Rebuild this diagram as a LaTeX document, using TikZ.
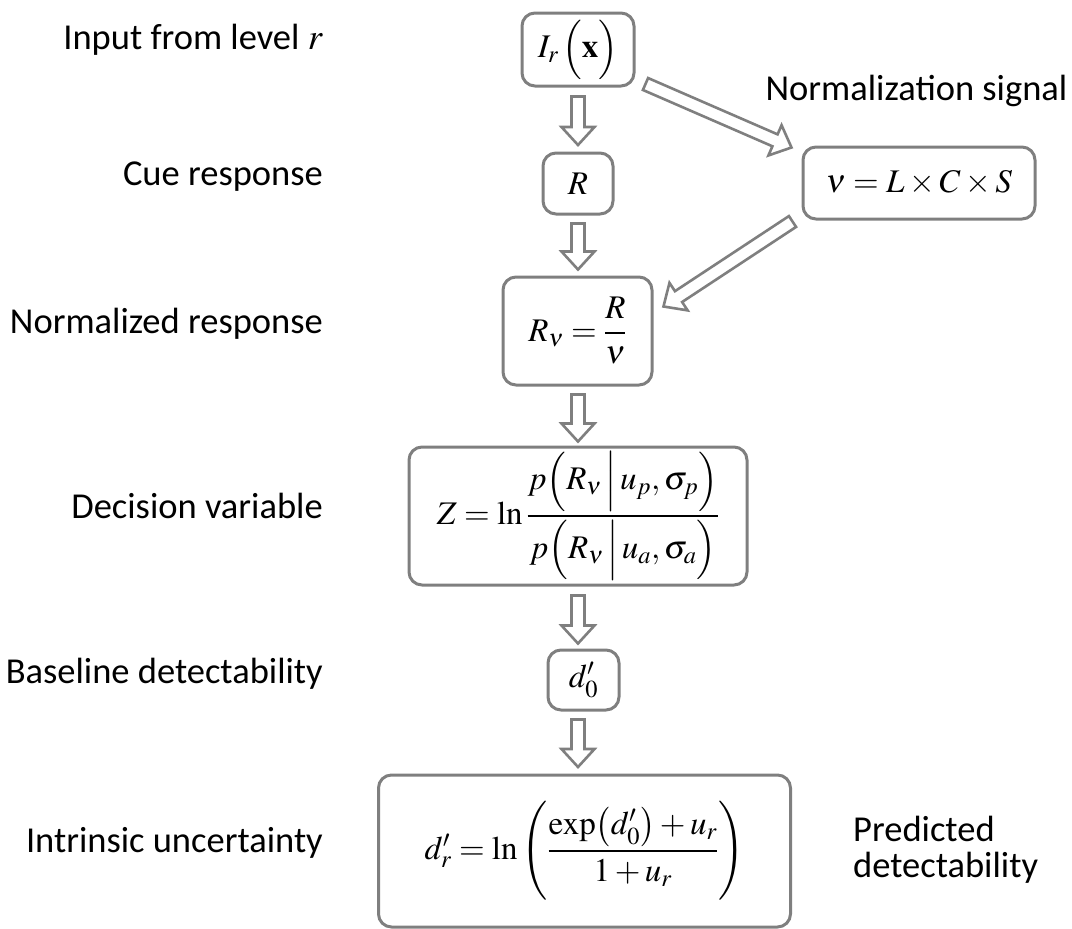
\documentclass[tikz,border=0pt]{standalone}
\usepackage{amsmath}
\usepackage{mathptmx}
\usepackage{fontspec}
\setmainfont{Liberation Serif}
\setsansfont{Carlito}
\usetikzlibrary{calc}
\definecolor{boxgray}{HTML}{7F7F7F}
\newcommand\labfont{\sffamily\fontsize{36.5}{36}\selectfont}
\newcommand\eqfont{\fontsize{33}{40}\selectfont}
\tikzset{
  box/.style={draw=boxgray, line width=3pt, rounded corners=13pt, inner sep=0pt, font=\eqfont},
  lab/.style={font=\labfont, inner sep=0pt},
  blk/.style={draw=boxgray, line width=2.6pt, line join=miter, fill=white},
}
% hollow block arrow from point #1 to point #2
\newcommand\blockarrow[2]{%
  \coordinate (ba-s) at (#1);
  \coordinate (ba-e) at (#2);
  \coordinate (ba-n) at ($(ba-e)!18pt!(ba-s)$);
  \draw[blk] ($(ba-s)!6.5pt!90:(ba-e)$) -- ($(ba-n)!6.5pt!-90:(ba-s)$)
     -- ($(ba-n)!16.5pt!-90:(ba-s)$) -- (ba-e) -- ($(ba-n)!16.5pt!90:(ba-s)$)
     -- ($(ba-n)!6.5pt!90:(ba-s)$) -- ($(ba-s)!6.5pt!-90:(ba-e)$) -- cycle;
}
\begin{document}
\begin{tikzpicture}[x=1pt,y=1pt]
\useasboundingbox (0,0) rectangle (1072,-929);
\coordinate (col) at (578,0);
% boxes
\node[box, minimum width=112pt, minimum height=73pt] (ir) at (578,-49.5) {$I_r\,\Bigl(\mathbf{x}\Bigr)$};
\node[box, minimum width=70pt, minimum height=61pt] (r) at (578,-183.5) {$R$};
\node[box, minimum width=232pt, minimum height=72pt] (nu) at (919,-183) {$\nu = L\times C\times S$};
\node[box, minimum width=149pt, minimum height=108pt] (rv) at (577.5,-331) {$R_\nu = \dfrac{R}{\nu}$};
\node[box, minimum width=338pt, minimum height=138pt] (z) at (578,-516) {$Z=\ln\dfrac{p\Bigl(R_\nu\,\Big|\,u_p,\sigma_p\Bigr)}{p\Bigl(R_\nu\,\Big|\,u_a,\sigma_a\Bigr)}$};
\node[box, minimum width=71pt, minimum height=60pt] (d0) at (583.5,-680) {$d'_0$};
\node[box, minimum width=412pt, minimum height=152pt] (dr) at (584.5,-851) {$d'_r=\ln\left(\dfrac{\exp\bigl(d'_0\bigr)+u_r}{1+u_r}\right)$};
% labels
\node[lab, anchor=mid east] (l1) at (323,-47) {Input from level $r$};
\node[lab, anchor=mid east] (l2) at (323,-183) {Cue response};
\node[lab, anchor=mid east] (l3) at (323,-331) {Normalized response};
\node[lab, anchor=mid east] (l4) at (323,-516) {Decision variable};
\node[lab, anchor=mid east] (l5) at (323,-681) {Baseline detectability};
\node[lab, anchor=mid east] (l6) at (323,-850) {Intrinsic uncertainty};
\node[lab, anchor=base] (l7) at (916.5,-100) {Normalization signal};
\node[lab, anchor=west, align=left] (l8) at (853,-850) {Predicted\\detectability};
% arrows
\blockarrow{$(ir.south -| col)+(0,-9)$}{$(r.north -| col)+(0,6.5)$}
\blockarrow{$(r.south -| col)+(0,-8)$}{$(rv.north -| col)+(0,6)$}
\blockarrow{$(rv.south -| col)+(0,-8)$}{$(z.north -| col)+(0,4)$}
\blockarrow{$(z.south -| col)+(0,-9)$}{$(d0.north -| col)+(0,5)$}
\blockarrow{$(d0.south -| col)+(0,-8)$}{$(dr.north -| col)+(0,6.5)$}
\blockarrow{$(ir.south east)+(10,3.5)$}{$(nu.north west)+(-10,-2)$}
\blockarrow{$(nu.south west)+(-9,-1)$}{$(rv.east)+(10,24.5)$}
\end{tikzpicture}
\end{document}
